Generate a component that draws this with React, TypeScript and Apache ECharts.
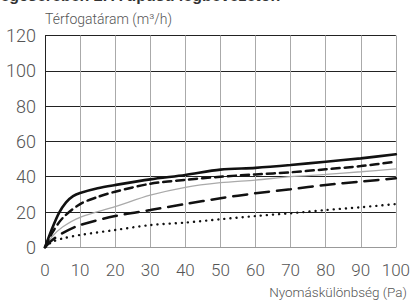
import React, { useEffect, useRef } from "react";
import * as echarts from "echarts";

const xTicks = [0, 10, 20, 30, 40, 50, 60, 70, 80, 90, 100];
const yTicks = [0, 20, 40, 60, 80, 100, 120];

const solidX = [0, 2, 4, 6, 8, 10, 15, 20, 30, 40, 50, 60, 70, 80, 90, 100];
const solidY = [0, 10.5, 19.5, 25.5, 29, 30.8, 33.5, 35.3, 38.5, 41, 44, 45, 46.6, 48.5, 50.4, 52.7];

const shortDashX = [0, 2, 5, 10, 15, 20, 30, 40, 50, 60, 70, 80, 90, 100];
const shortDashY = [0, 8, 16.5, 24.5, 28.5, 31.5, 36, 38.2, 40, 41.3, 42.5, 44.2, 46, 48.5];

const grayX = [0, 2, 5, 10, 20, 30, 40, 50, 60, 70, 80, 90, 100];
const grayY = [0, 6, 11.5, 17, 23, 29.5, 34, 36.6, 38.1, 40, 41.3, 42.8, 44.4];

const longDashX = [0, 2, 5, 10, 20, 30, 40, 50, 60, 70, 80, 90, 100];
const longDashY = [0, 4, 8, 12.6, 17.7, 21.1, 24.5, 27.8, 30.6, 32.9, 35.3, 37.2, 39.1];

const dotX = [0, 2, 5, 10, 20, 30, 40, 50, 60, 70, 80, 90, 100];
const dotY = [0, 3, 5, 7, 9.8, 12.6, 14, 15.9, 17.7, 19.3, 21.1, 22.7, 24.5];

const zip = (xs: number[], ys: number[]) => xs.map((x, i) => [x, ys[i]]);

const FONT = "Roboto";

export default function App() {
  const ref = useRef<HTMLDivElement>(null);
  useEffect(() => {
    if (!ref.current) return;
    const chart = echarts.init(ref.current, null, { renderer: "svg" });
    const mk = (data: number[][], color: string, width: number, type: any) => ({
      type: "line",
      data,
      smooth: 0.3,
      showSymbol: false,
      symbol: "none",
      lineStyle: { color, width, type, cap: "round" },
    });
    chart.setOption({
      animation: false,
      backgroundColor: "#ffffff",
      graphic: [
        {
          type: "text",
          left: -4,
          top: -13,
          style: {
            text: "légcserében 2. A típusú légbevezetőn",
            font: "bold 16px 'Liberation Sans'",
            fill: "#333",
          },
        },
        {
          type: "text",
          left: 45,
          top: 12,
          style: {
            text: "Térfogatáram (m³/h)",
            font: `300 14px ${FONT}`,
            fill: "#555",
          },
        },
        {
          type: "text",
          right: 6,
          top: 285,
          style: {
            text: "Nyomáskülönbség (Pa)",
            font: `300 13.5px ${FONT}`,
            fill: "#555",
          },
        },
      ],
      grid: { left: 45, top: 35.5, width: 354.3, height: 211.8, containLabel: false },
      xAxis: {
        type: "value",
        min: xTicks[0],
        max: xTicks[xTicks.length - 1],
        interval: 10,
        axisLine: { show: true, lineStyle: { color: "#999", width: 1 } },
        axisTick: { show: false },
        splitLine: { show: true, lineStyle: { color: "#aaa", width: 1 } },
        axisLabel: {
          color: "#555",
          fontFamily: FONT,
          fontWeight: 300,
          fontSize: 17,
          margin: 14,
          formatter: (v: number) => (xTicks.includes(v) ? String(v) : ""),
        },
      },
      yAxis: {
        type: "value",
        min: yTicks[0],
        max: yTicks[yTicks.length - 1],
        interval: 20,
        axisLine: { show: true, lineStyle: { color: "#222", width: 1 } },
        axisTick: { show: false },
        splitLine: { show: true, lineStyle: { color: "#222", width: 1 } },
        axisLabel: {
          color: "#555",
          fontFamily: FONT,
          fontWeight: 300,
          fontSize: 18,
          margin: 9,
          formatter: (v: number) => (yTicks.includes(v) ? String(v) : ""),
        },
      },
      series: [
        mk(zip(grayX, grayY), "#aaaaaa", 1.3, "solid"),
        mk(zip(dotX, dotY), "#111", 2.4, [0.1, 6]),
        mk(zip(longDashX, longDashY), "#111", 2.5, [14, 8]),
        mk(zip(shortDashX, shortDashY), "#111", 2.5, [8, 5]),
        mk(zip(solidX, solidY), "#111", 2.6, "solid"),
      ],
    });
    return () => chart.dispose();
  }, []);
  return (
    <div
      ref={ref}
      style={{ position: "fixed", left: 0, top: 0, width: 413, height: 302 }}
    />
  );
}
